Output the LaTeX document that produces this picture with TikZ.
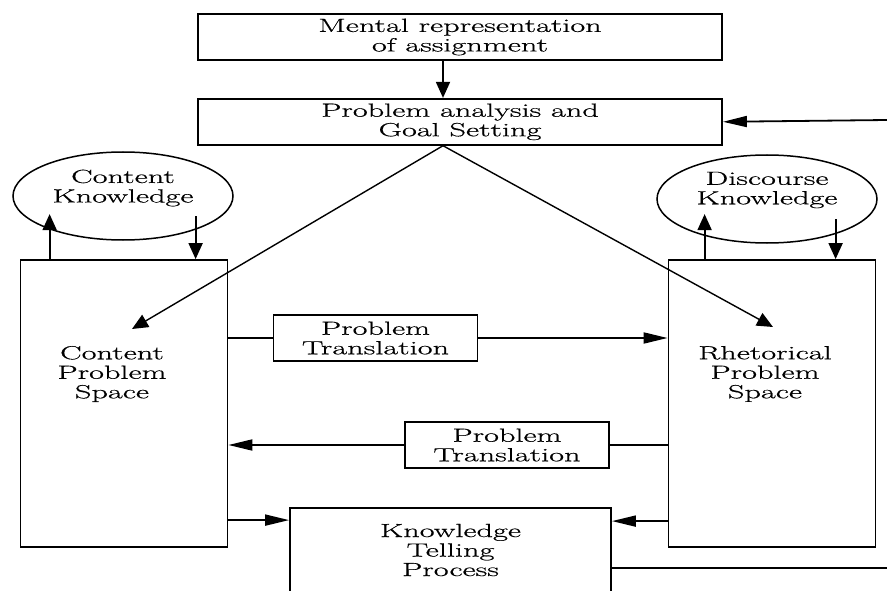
\documentclass[tikz,border=0pt]{standalone}
\usepackage{fontspec}
\setmainfont{Latin Modern Roman}[FakeStretch=1.7, FakeBold=0.6]
\usetikzlibrary{arrows.meta, positioning, shapes.geometric}

\begin{document}
\begin{tikzpicture}[
    x=1pt, y=-1pt,
    >={Triangle[length=16pt, width=14pt]},
    font=\fontsize{19}{19.5}\selectfont,
    every node/.style={inner sep=0pt},
    stagebox/.style={
        draw, line width=1.8pt, align=center,
        minimum width=524pt, minimum height=46pt
    },
    transbox/.style={
        draw, line width=1.8pt, align=center,
        minimum width=204pt, minimum height=46pt
    },
    spacebox/.style={
        draw, line width=1.8pt,
        minimum width=207pt, minimum height=287pt
    },
    knowellipse/.style={
        draw, ellipse, line width=1.5pt,
        minimum width=220pt, minimum height=88pt
    },
    spacelabel/.style={align=center},
    arrstyle/.style={->, line width=1.8pt},
    harrstyle/.style={-{Triangle[length=24pt, width=11pt]}, line width=1.8pt},
    linkstyle/.style={line width=1.8pt},
]
\useasboundingbox (0,0) rectangle (887,591);
\clip (0,0) rectangle (887,591);

% === Assignment and goal setting ===
\node[stagebox] (mental) at (460,37) {Mental representation\\of assignment};
\node[stagebox, below=37pt of mental] (goal) {Problem analysis and\\Goal Setting};

% === Knowledge stores ===
\node[knowellipse] (ck) at (123,196) {};
\node[spacelabel] (cklabel) at (123,188) {Content\\Knowledge};
\node[knowellipse] (dk) at (767,199) {};
\node[spacelabel] (dklabel) at (767,190) {Discourse\\Knowledge};

% === Problem spaces ===
\node[spacebox] (cps) at (124,403.5) {};
\node[spacelabel] (cpslabel) at (112,374) {Content\\Problem\\Space};
\node[spacebox] (rps) at (772,403.5) {};
\node[spacelabel] (rpslabel) at (765,374) {Rhetorical\\Problem\\Space};

% === Translations ===
\node[transbox] (pt1) at (375.5,338) {Problem\\Translation};
\node[transbox] (pt2) at (507,445) {Problem\\Translation};

% === Knowledge telling ===
\node[draw, line width=1.8pt, align=center, minimum width=321pt,
      minimum height=84pt] (ktp) at (450.5,550) {Knowledge\\Telling\\Process};

% === Free ends ===
\coordinate (apex) at ([xshift=-17]goal.south);
\coordinate (cpstip) at (132,329);
\coordinate (rpstip) at (773,327);
\coordinate (fbin) at (887,120);
\coordinate (ktpin) at ([yshift=-13]ktp.north west);
\coordinate (ktpinr) at ([yshift=-14]ktp.north east);
\coordinate (ktpout) at ([yshift=-18]ktp.east);

% === Arrows ===
\draw[arrstyle] ([xshift=-17]mental.south) -- ([xshift=-17]goal.north);
\draw[harrstyle] (fbin) -- (goal.east);
\draw[arrstyle, line width=1.4pt] (apex) -- (cpstip);
\draw[arrstyle, line width=1.4pt] (apex) -- (rpstip);

\draw[arrstyle] ([xshift=30]cps.north west) -- ++(0,-45);
\draw[arrstyle] ([xshift=176, yshift=43]cps.north west) -- ([xshift=176]cps.north west);
\draw[arrstyle] ([xshift=37]rps.north west) -- ++(0,-45);
\draw[arrstyle] ([xshift=168, yshift=40]rps.north west) -- ([xshift=168]rps.north west);

\draw[linkstyle] (cps.east |- pt1) -- (pt1.west);
\draw[harrstyle] (pt1.east) -- (rps.west |- pt1);
\draw[linkstyle] (rps.west |- pt2) -- (pt2.east);
\draw[harrstyle] (pt2.west) -- (cps.east |- pt2);

\draw[harrstyle] (cps.east |- ktpin) -- (ktpin);
\draw[harrstyle] (rps.west |- ktpinr) -- (ktpinr);
\draw[linkstyle] (ktpout) -- (ktpout -| fbin);

\end{tikzpicture}
\end{document}
